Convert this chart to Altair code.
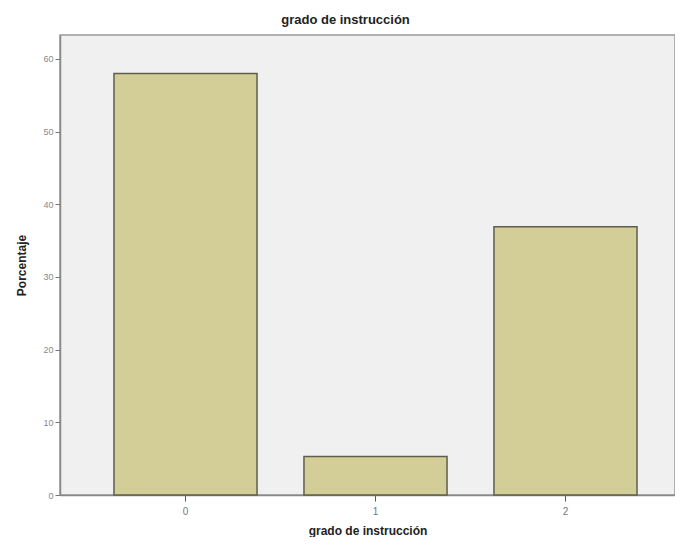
import altair as alt
import pandas as pd

categories = ["0", "1", "2"]
percent = [58.0, 5.3, 36.9]

df = pd.DataFrame({"grado": categories, "pct": percent})

bars = alt.Chart(df).mark_bar(
    fill="#D3CE97", stroke="#5F5E4C", strokeWidth=1.5
).encode(
    x=alt.X("grado:N", title="grado de instrucción",
            sort=categories,
            scale=alt.Scale(paddingInner=0.247, paddingOuter=0.242, align=0.587),
            axis=alt.Axis(labelAngle=0, labelFont="Liberation Sans", labelFontSize=10,
                          labelColor="#777777", tickColor="#555555", tickSize=6,
                          domainColor="#888888", domainWidth=1.5, labelPadding=5,
                          titleFont="Liberation Sans", titleFontSize=12, titleFontWeight="bold",
                          titleColor="#222222", titlePadding=9)),
    y=alt.Y("pct:Q", title="Porcentaje",
            scale=alt.Scale(domain=[0, 63.3], nice=False, zero=True),
            axis=alt.Axis(values=[0, 10, 20, 30, 40, 50, 60], grid=False,
                          labelFont="Liberation Sans", labelFontSize=9, labelColor="#888888",
                          tickColor="#777777", tickSize=5, domainColor="#888888", domainWidth=1.5,
                          labelPadding=2,
                          titleFont="Liberation Sans", titleFontSize=12, titleFontWeight="bold",
                          titleColor="#222222", titlePadding=14))
)

chart = bars.properties(
    width=615, height=460,
    autosize=alt.AutoSizeParams(type="none"),
    padding={"left": 52, "top": 27, "right": 0, "bottom": 42},
    background="white",
    title=alt.TitleParams("grado de instrucción", font="Liberation Sans", fontSize=13,
                          fontWeight="bold", color="#222222", anchor="middle", dx=-22, offset=8)
).configure_view(
    fill="#F0F0F0", stroke="#999999", strokeWidth=1.5
)

chart.save("out.html", embed_options={"renderer": "svg", "actions": False})
